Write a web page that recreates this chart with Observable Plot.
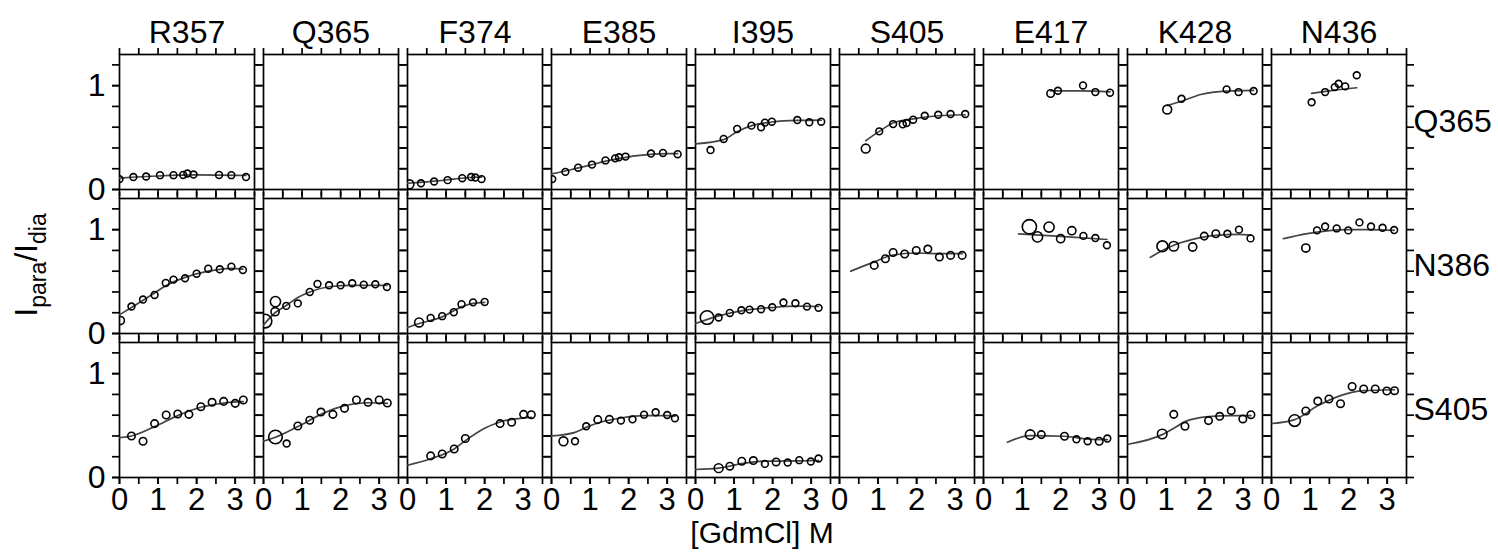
<!DOCTYPE html>
<html>
<head>
<meta charset="utf-8">
<script src="https://cdn.jsdelivr.net/npm/d3@7"></script>
<script src="https://cdn.jsdelivr.net/npm/@observablehq/plot@0.6"></script>
<style>
  body { margin: 0; background: #fff; }
  svg { display: block; }
</style>
</head>
<body>
<div id="chart"></div>
<script>
// ---- categories ----
const columns = ["R357", "Q365", "F374", "E385", "I395", "S405", "E417", "K428", "N436"];
const rows = ["Q365", "N386", "S405"];

// ---- tick values ----
const xTicksMajor = [0, 1, 2, 3];
const xTicksMinor = [0, 0.5, 1, 1.5, 2, 2.5, 3, 3.5];
const yTicksMajor = [0, 1];
const yTicksMinor = [0, 0.2, 0.4, 0.6, 0.8, 1, 1.2];
const xDomain = [0, 3.5];
const yDomain = [0, 1.3];

// ---- measured points: [column, GdmCl (M), Ipara/Idia, relative symbol size] ----
const pointsQ365 = [
  ["R357",0.00,0.10,1],["R357",0.36,0.12,1],["R357",0.69,0.125,1],["R357",1.05,0.138,1],["R357",1.40,0.138,1],["R357",1.65,0.14,1],["R357",1.76,0.154,1],["R357",1.92,0.144,1],["R357",2.58,0.14,1],["R357",2.90,0.138,1],["R357",3.28,0.12,1],
  ["F374",0.05,0.05,1.3],["F374",0.35,0.06,1],["F374",0.69,0.077,1],["F374",1.04,0.09,1],["F374",1.42,0.109,1],["F374",1.65,0.12,1],["F374",1.76,0.115,1],["F374",1.92,0.10,1],
  ["E385",0.02,0.10,1],["E385",0.36,0.17,1],["E385",0.69,0.21,1],["E385",1.05,0.24,1],["E385",1.40,0.28,1],["E385",1.65,0.30,1],["E385",1.75,0.31,1],["E385",1.92,0.317,1],["E385",2.58,0.346,1],["E385",2.89,0.352,1],["E385",3.27,0.34,1],
  ["I395",0.39,0.38,1],["I395",0.73,0.487,1],["I395",1.08,0.583,1],["I395",1.45,0.615,1],["I395",1.70,0.60,1],["I395",1.80,0.644,1],["I395",1.98,0.653,1],["I395",2.64,0.669,1],["I395",2.95,0.647,1],["I395",3.26,0.653,1],
  ["S405",0.68,0.394,1.3],["S405",1.03,0.56,1],["S405",1.39,0.63,1],["S405",1.64,0.628,1],["S405",1.74,0.64,1],["S405",1.91,0.672,1],["S405",2.21,0.71,1],["S405",2.56,0.72,1],["S405",2.88,0.727,1],["S405",3.26,0.727,1],
  ["E417",1.74,0.925,1.1],["E417",1.93,0.951,1],["E417",2.58,1.002,1],["E417",2.90,0.938,1],["E417",3.28,0.932,1],
  ["K428",1.03,0.77,1.3],["K428",1.40,0.874,1],["K428",2.57,0.964,1],["K428",2.88,0.938,1],["K428",3.27,0.948,1],
  ["N436",1.04,0.84,1],["N436",1.39,0.938,1],["N436",1.64,0.986,1],["N436",1.74,1.018,1],["N436",1.91,0.993,1],["N436",2.21,1.10,1]
];
const pointsN386 = [
  ["R357",0.02,0.125,1.2],["R357",0.31,0.26,1],["R357",0.61,0.327,1],["R357",0.91,0.371,1],["R357",1.20,0.487,1],["R357",1.40,0.519,1],["R357",1.70,0.532,1],["R357",2.00,0.576,1],["R357",2.30,0.624,1],["R357",2.60,0.618,1],["R357",2.90,0.644,1],["R357",3.20,0.612,1],
  ["Q365",0.04,0.12,2],["Q365",0.31,0.307,1.5],["Q365",0.30,0.21,1.2],["Q365",0.59,0.266,1],["Q365",0.89,0.29,1],["Q365",1.20,0.40,1],["Q365",1.40,0.477,1],["Q365",1.70,0.464,1],["Q365",2.00,0.464,1],["Q365",2.30,0.484,1],["Q365",2.60,0.47,1],["Q365",2.90,0.474,1],["Q365",3.20,0.448,1],
  ["F374",0.30,0.106,1.3],["F374",0.60,0.15,1],["F374",0.90,0.167,1],["F374",1.20,0.205,1],["F374",1.40,0.282,1],["F374",1.70,0.30,1],["F374",2.00,0.304,1],
  ["I395",0.30,0.154,2],["I395",0.60,0.154,1],["I395",0.89,0.198,1],["I395",1.19,0.224,1],["I395",1.40,0.23,1],["I395",1.70,0.234,1],["I395",1.99,0.253,1],["I395",2.28,0.298,1],["I395",2.59,0.291,1],["I395",2.89,0.259,1],["I395",3.19,0.247,1],
  ["S405",0.90,0.656,1.1],["S405",1.19,0.72,1.1],["S405",1.39,0.78,1.1],["S405",1.69,0.765,1.1],["S405",1.99,0.80,1.1],["S405",2.29,0.813,1.1],["S405",2.59,0.736,1.1],["S405",2.88,0.752,1.1],["S405",3.18,0.752,1.1],
  ["E417",1.19,1.028,2.1],["E417",1.40,0.93,1.5],["E417",1.70,1.025,1.5],["E417",2.00,0.913,1.2],["E417",2.29,0.99,1.2],["E417",2.59,0.94,1],["E417",2.90,0.919,1],["E417",3.20,0.85,1],
  ["K428",0.905,0.84,1.6],["K428",1.20,0.84,1.4],["K428",1.69,0.833,1.2],["K428",1.99,0.938,1.1],["K428",2.29,0.96,1.1],["K428",2.59,0.96,1],["K428",2.89,1.00,1],["K428",3.19,0.916,1],
  ["N436",0.89,0.823,1.2],["N436",1.18,0.993,1],["N436",1.39,1.03,1],["N436",1.69,1.012,1],["N436",1.99,0.993,1],["N436",2.28,1.07,1],["N436",2.58,1.03,1],["N436",2.88,1.018,1],["N436",3.18,0.996,1]
];
const pointsS405 = [
  ["R357",0.31,0.40,1.1],["R357",0.61,0.349,1.1],["R357",0.91,0.519,1.1],["R357",1.21,0.602,1.1],["R357",1.51,0.612,1.1],["R357",1.80,0.608,1.1],["R357",2.11,0.682,1.1],["R357",2.40,0.724,1.1],["R357",2.70,0.733,1.1],["R357",3.00,0.714,1.1],["R357",3.21,0.746,1.1],
  ["Q365",0.31,0.39,2],["Q365",0.60,0.327,1],["Q365",0.89,0.496,1.1],["Q365",1.20,0.551,1.1],["Q365",1.49,0.63,1.1],["Q365",1.80,0.608,1.1],["Q365",2.10,0.666,1.1],["Q365",2.41,0.746,1.1],["Q365",2.71,0.724,1.1],["Q365",3.00,0.746,1.1],["Q365",3.21,0.717,1.1],
  ["F374",0.60,0.208,1.1],["F374",0.90,0.227,1.1],["F374",1.21,0.275,1.1],["F374",1.50,0.375,1.1],["F374",2.40,0.519,1.1],["F374",2.70,0.532,1.1],["F374",3.01,0.608,1.1],["F374",3.21,0.605,1.1],
  ["E385",0.31,0.349,1.3],["E385",0.61,0.349,1],["E385",0.90,0.493,1],["E385",1.20,0.557,1.1],["E385",1.50,0.56,1.1],["E385",1.80,0.548,1],["E385",2.10,0.56,1],["E385",2.40,0.605,1],["E385",2.70,0.628,1],["E385",3.00,0.602,1],["E385",3.20,0.57,1],
  ["I395",0.60,0.09,1.3],["I395",0.89,0.109,1.1],["I395",1.20,0.157,1.1],["I395",1.50,0.163,1.1],["I395",1.80,0.131,1],["I395",2.09,0.15,1.1],["I395",2.39,0.144,1],["I395",2.69,0.167,1],["I395",2.99,0.154,1],["I395",3.19,0.183,1],
  ["E417",1.21,0.413,1.4],["E417",1.50,0.413,1.1],["E417",2.10,0.397,1.1],["E417",2.41,0.368,1],["E417",2.70,0.349,1],["E417",3.00,0.349,1.1],["E417",3.21,0.375,1],
  ["K428",0.90,0.419,1.4],["K428",1.20,0.608,1.1],["K428",1.49,0.493,1.1],["K428",2.10,0.548,1.1],["K428",2.39,0.589,1.1],["K428",2.69,0.644,1.1],["K428",2.99,0.564,1.1],["K428",3.20,0.605,1.1],
  ["N436",0.60,0.548,1.7],["N436",0.89,0.64,1.1],["N436",1.20,0.736,1.1],["N436",1.49,0.756,1.1],["N436",1.79,0.711,1.1],["N436",2.09,0.877,1.1],["N436",2.39,0.852,1.1],["N436",2.69,0.852,1.1],["N436",2.99,0.833,1.1],["N436",3.19,0.836,1.1]
];

// ---- fitted curves: [column, GdmCl (M), fit] ----
const curvesQ365 = [
  ["R357",0,0.11],["R357",1,0.13],["R357",2,0.14],["R357",3.28,0.135],
  ["F374",0,0.06],["F374",0.7,0.08],["F374",1.2,0.10],["F374",1.7,0.118],["F374",1.92,0.12],
  ["E385",0,0.15],["E385",0.5,0.19],["E385",1,0.235],["E385",1.5,0.28],["E385",2,0.315],["E385",2.5,0.335],["E385",3,0.345],["E385",3.27,0.345],
  ["I395",0,0.44],["I395",0.73,0.48],["I395",1.08,0.557],["I395",1.5,0.62],["I395",1.98,0.65],["I395",2.64,0.666],["I395",3.26,0.669],
  ["S405",0.68,0.47],["S405",1.03,0.56],["S405",1.39,0.64],["S405",1.91,0.68],["S405",2.56,0.71],["S405",3.26,0.72],
  ["E417",1.74,0.95],["E417",2.5,0.95],["E417",3.28,0.94],
  ["K428",1.03,0.81],["K428",1.40,0.85],["K428",1.9,0.915],["K428",2.57,0.948],["K428",3.27,0.955],
  ["N436",1.04,0.925],["N436",1.6,0.955],["N436",2.21,0.98]
];
const curvesN386 = [
  ["R357",0,0.18],["R357",0.31,0.25],["R357",0.91,0.39],["R357",1.2,0.46],["R357",1.7,0.54],["R357",2.3,0.60],["R357",2.9,0.628],["R357",3.2,0.62],
  ["Q365",0,0.083],["Q365",0.3,0.20],["Q365",0.59,0.27],["Q365",0.89,0.346],["Q365",1.2,0.40],["Q365",1.7,0.45],["Q365",2.3,0.464],["Q365",3.2,0.464],
  ["F374",0,0.058],["F374",0.3,0.096],["F374",0.9,0.16],["F374",1.4,0.256],["F374",1.7,0.29],["F374",2.0,0.30],
  ["I395",0,0.096],["I395",0.6,0.17],["I395",1.19,0.218],["I395",1.99,0.25],["I395",2.59,0.263],["I395",3.19,0.26],
  ["S405",0.29,0.60],["S405",0.9,0.69],["S405",1.39,0.756],["S405",1.99,0.775],["S405",2.59,0.77],["S405",3.18,0.77],
  ["E417",0.91,0.96],["E417",2.0,0.935],["E417",3.2,0.905],
  ["K428",0.59,0.733],["K428",0.905,0.80],["K428",1.2,0.85],["K428",1.69,0.906],["K428",2.29,0.945],["K428",2.89,0.954],["K428",3.19,0.948],
  ["N436",0.31,0.913],["N436",0.89,0.96],["N436",1.39,0.986],["N436",1.99,1.0],["N436",2.58,1.0],["N436",3.18,0.993]
];
const curvesS405 = [
  ["R357",0,0.384],["R357",0.31,0.40],["R357",0.91,0.49],["R357",1.51,0.596],["R357",2.11,0.676],["R357",2.7,0.717],["R357",3.21,0.73],
  ["Q365",0,0.349],["Q365",0.31,0.387],["Q365",0.89,0.49],["Q365",1.49,0.608],["Q365",2.1,0.692],["Q365",2.71,0.72],["Q365",3.21,0.714],
  ["F374",0,0.118],["F374",0.6,0.18],["F374",1.21,0.275],["F374",1.5,0.355],["F374",2.0,0.474],["F374",2.4,0.535],["F374",3.01,0.573],["F374",3.21,0.58],
  ["E385",0,0.40],["E385",0.61,0.435],["E385",0.9,0.483],["E385",1.2,0.525],["E385",1.8,0.573],["E385",2.4,0.596],["E385",3.0,0.596],["E385",3.2,0.59],
  ["I395",0,0.077],["I395",0.6,0.09],["I395",1.2,0.134],["I395",1.8,0.157],["I395",2.69,0.16],["I395",3.19,0.163],
  ["E417",0.62,0.34],["E417",1.21,0.403],["E417",2.1,0.397],["E417",2.7,0.37],["E417",3.21,0.365],
  ["K428",0.02,0.32],["K428",0.9,0.413],["K428",1.2,0.474],["K428",1.49,0.538],["K428",2.1,0.586],["K428",2.69,0.596],["K428",3.2,0.596],
  ["N436",0.02,0.52],["N436",0.6,0.557],["N436",1.2,0.69],["N436",1.79,0.788],["N436",2.39,0.836],["N436",3.19,0.845]
];

// ---- tables for Plot ----
const pointSets = {Q365: pointsQ365, N386: pointsN386, S405: pointsS405};
const curveSets = {Q365: curvesQ365, N386: curvesN386, S405: curvesS405};
const points = rows.flatMap(r => pointSets[r].map(([col, x, y, s]) => ({row: r, col, x, y, s})));
const curves = rows.flatMap(r => curveSets[r].map(([col, x, y]) => ({row: r, col, x, y, key: r + "-" + col})));
const cells = rows.flatMap(r => columns.map(c => ({row: r, col: c})));

const FONT = "'Liberation Sans', Arial, Helvetica, sans-serif";
const FS = 32;
const tickStyle = {stroke: "black", strokeWidth: 1.7, tickSize: 7, label: null};

const chart = Plot.plot({
  width: 1498,
  height: 555,
  marginLeft: 118,
  marginRight: 92,
  marginTop: 53,
  marginBottom: 78,
  style: {fontFamily: FONT, fontSize: FS + "px", color: "black", background: "white"},
  x: {domain: xDomain},
  y: {domain: yDomain},
  fx: {domain: columns, paddingInner: 9 / 144, paddingOuter: 0},
  fy: {domain: rows, paddingInner: 9 / 144, paddingOuter: 0},
  r: {type: "linear", domain: [0, 1], range: [0, 3.4]},
  marks: [
    // one (invisible) entry per panel so that empty panels keep their frame
    Plot.text(cells, {fx: "col", fy: "row", text: () => ""}),
    Plot.frame({stroke: "black", strokeWidth: 1.7}),
    // minor ticks on all four sides of every panel
    Plot.axisX(xTicksMinor, {...tickStyle, anchor: "bottom", tickFormat: () => "", facetAnchor: null}),
    Plot.axisX(xTicksMinor, {...tickStyle, anchor: "top", tickFormat: () => "", facetAnchor: null}),
    Plot.axisY(yTicksMinor, {...tickStyle, anchor: "left", tickFormat: () => "", facetAnchor: null}),
    Plot.axisY(yTicksMinor, {...tickStyle, anchor: "right", tickFormat: () => "", facetAnchor: null}),
    // labelled ticks on the outer panels
    Plot.axisX(xTicksMajor, {...tickStyle, anchor: "bottom", tickPadding: 3, tickFormat: d3.format("d"), fontSize: 31, facetAnchor: "bottom"}),
    Plot.axisY(yTicksMajor, {...tickStyle, anchor: "left", tickPadding: 7, tickFormat: d3.format("d"), fontSize: FS, facetAnchor: "left"}),
    // facet labels
    Plot.axisFx({anchor: "top", tickSize: 0, tickPadding: 12, fontSize: FS, label: null}),
    Plot.axisFy({anchor: "right", tickSize: 0, tickPadding: 7, fontSize: FS, label: null}),
    // fitted curves and data
    Plot.line(curves, {fx: "col", fy: "row", x: "x", y: "y", z: "key", stroke: "#444", strokeWidth: 1.7, curve: "monotone-x", clip: true}),
    Plot.dot(points, {fx: "col", fy: "row", x: "x", y: "y", r: "s", stroke: "black", strokeWidth: 1.6, fill: "none", clip: true})
  ]
});

// axis titles
const svg = d3.select(chart);
svg.append("text")
  .attr("x", 118 + (1498 - 118 - 92) / 2)
  .attr("y", 543)
  .attr("text-anchor", "middle")
  .attr("font-family", FONT)
  .attr("font-size", 30)
  .attr("fill", "black")
  .text("[GdmCl] M");

const yl = svg.append("text")
  .attr("transform", "translate(37," + (53 + (555 - 53 - 78) / 2) + ") rotate(-90)")
  .attr("text-anchor", "middle")
  .attr("font-family", FONT)
  .attr("font-size", FS)
  .attr("fill", "black");
yl.append("tspan").text("I");
yl.append("tspan").attr("font-size", 23).attr("dy", 9).text("para");
yl.append("tspan").attr("dy", -9).text("/");
yl.append("tspan").text("I");
yl.append("tspan").attr("font-size", 23).attr("dy", 9).text("dia");

document.getElementById("chart").appendChild(chart);
</script>
</body>
</html>
